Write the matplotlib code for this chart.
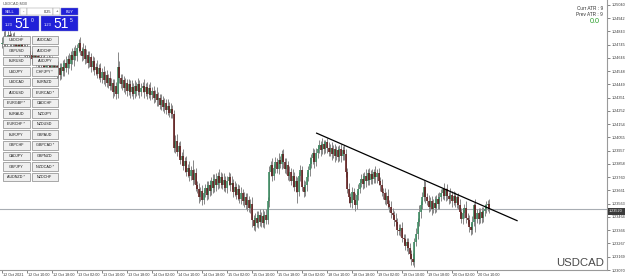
import matplotlib
matplotlib.use("Agg")
import matplotlib.pyplot as plt
from matplotlib.patches import Rectangle
import matplotlib.transforms as mtransforms

plt.rcParams['font.family'] = ['Liberation Sans', 'DejaVu Sans']

# ---------------- data (USDCAD M30) ----------------
BASE = 1.2300          # price = BASE + pips * 0.0001
close_pips = [
176,180,174,178,182,177,175,180,176,172,
174,170,176,173,169,172,166,170,167,164,
168,163,166,161,165,160,163,158,162,159,
163,157,161,155,159,153,157,152,158,155,
161,157,164,160,167,163,170,166,172,176,
170,166,171,164,167,161,165,158,162,156,
158,153,157,150,154,148,152,146,150,144,
146,139,144,138,158,150,145,148,142,146,
140,145,139,143,138,144,140,145,139,142,
144,139,143,138,142,137,140,135,138,133,
135,130,133,128,131,126,129,124,127,123,
98,103,95,99,89,92,84,88,80,83,
77,81,74,79,70,67,61,66,59,64,
68,63,70,66,73,68,75,70,77,72,
76,70,74,68,73,76,70,72,65,69,
63,67,60,64,58,61,55,59,53,56,
44,40,46,42,48,43,47,42,48,44,
58,80,85,77,83,87,82,89,86,93,
87,82,85,77,80,73,77,69,73,65,
77,81,69,65,70,76,81,86,90,94,
87,94,97,100,96,101,97,102,98,95,
98,93,97,92,96,91,97,92,96,93,
80,67,61,57,65,59,55,63,67,72,
75,71,77,73,79,74,78,75,80,76,
79,73,70,65,64,59,62,56,54,49,
48,44,43,37,36,38,31,30,25,28,
23,19,15,13,28,34,43,50,55,61,
69,61,58,54,58,52,57,53,60,56,
61,64,67,62,67,62,60,63,58,62,
57,61,55,50,45,49,53,46,44,39,
37,43,55,45,49,45,50,46,51,52,
55,56,52]
first_open_pips = 175
wick_hi = [
4,5,6,3,3,4,6,3,4,3,
4,5,6,3,4,3,5,3,4,3,
3,4,3,5,3,4,3,5,3,4,
4,3,5,3,4,3,5,4,3,5,
3,5,3,4,3,5,3,4,3,3,
4,3,5,3,4,3,5,3,4,3,
3,5,3,4,3,5,3,4,3,5,
4,3,5,3,11,4,3,5,3,4,
3,4,3,5,3,4,3,5,3,4,
3,5,3,4,3,5,3,4,3,5,
4,3,5,3,4,3,5,3,4,3,
3,4,5,3,4,3,5,3,4,3,
5,3,8,3,4,3,5,3,4,3,
3,5,3,4,3,5,3,4,3,5,
4,3,5,3,4,4,3,5,3,4,
3,4,3,5,3,4,3,5,3,4,
5,4,3,5,3,4,3,5,3,4,
3,4,3,5,3,4,3,5,3,3,
4,3,5,3,4,3,5,3,4,3,
3,4,3,5,3,4,3,5,3,4,
3,4,3,4,3,4,3,2,3,4,
3,4,3,4,3,3,3,4,3,4,
4,3,5,3,4,3,5,3,4,3,
3,4,3,5,3,4,3,4,2,4,
3,4,3,5,3,4,3,5,3,4,
4,3,5,3,4,3,5,3,4,3,
3,4,3,5,3,4,3,5,3,4,
5,4,3,5,3,4,3,5,3,4,
4,3,1,5,1,4,3,5,3,4,
3,2,3,5,3,4,3,5,3,4,
3,4,2,5,3,4,3,4,3,4,
3,3,4]
wick_lo = [
3,4,3,4,3,4,3,4,3,4,
3,4,3,4,3,4,3,4,3,4,
4,3,4,3,4,3,4,3,4,3,
3,4,3,4,3,4,3,4,3,4,
4,3,4,3,4,3,4,3,4,3,
3,4,3,4,3,4,3,4,3,4,
4,3,4,3,4,3,4,3,4,3,
3,4,3,4,3,4,3,4,3,4,
4,3,4,3,4,3,4,3,4,3,
3,4,3,4,3,4,3,4,3,4,
4,3,4,3,4,3,4,3,4,3,
3,4,3,4,3,4,3,4,3,4,
4,3,4,3,4,3,4,3,4,3,
3,4,3,4,3,4,3,4,3,4,
4,3,4,3,4,3,4,3,4,3,
3,4,3,4,3,4,3,4,3,4,
5,3,4,3,4,3,4,3,4,3,
3,4,3,4,3,4,3,4,3,4,
4,3,4,3,4,3,4,3,4,8,
3,4,3,4,3,4,3,4,3,4,
4,3,4,3,4,3,4,3,4,3,
3,4,3,5,3,4,3,5,3,4,
4,3,4,3,4,3,4,3,4,3,
3,4,3,4,3,4,3,4,3,4,
4,3,4,3,4,3,4,3,4,3,
3,4,3,4,3,4,3,4,3,4,
4,4,4,2,4,3,4,3,4,3,
3,4,3,4,3,4,3,4,3,4,
4,3,4,3,4,3,4,3,4,3,
3,4,3,4,3,4,3,4,3,4,
4,3,3,10,3,4,3,4,3,4,
3,4,3]

time_labels = ["12 Oct 2021", "12 Oct 10:00", "12 Oct 18:00", "13 Oct 02:00",
               "13 Oct 10:00", "13 Oct 18:00", "14 Oct 02:00", "14 Oct 10:00",
               "14 Oct 18:00", "15 Oct 02:00", "15 Oct 10:00", "15 Oct 18:00",
               "18 Oct 02:00", "18 Oct 10:00", "18 Oct 18:00", "19 Oct 02:00",
               "19 Oct 10:00", "19 Oct 18:00", "20 Oct 02:00", "20 Oct 10:00"]
time_label_bars = [0, 16, 32, 48, 64, 80, 96, 112, 128, 144, 160, 176,
                   192, 208, 224, 240, 256, 272, 288, 304]
price_ticks = [1.25040, 1.24942, 1.24843, 1.24745, 1.24646, 1.24548, 1.24449,
               1.24351, 1.24252, 1.24154, 1.24055, 1.23957, 1.23858, 1.23760,
               1.23661, 1.23563, 1.23464, 1.23366, 1.23267, 1.23169, 1.23070]
trend_bars = [201, 330]
trend_prices = [1.24089, 1.23435]

symbols_left = ["USDCHF", "GBPUSD", "EURUSD", "USDJPY", "USDCAD", "AUDUSD", "EURGBP *",
                "EURAUD", "EURCHF *", "EURJPY", "GBPCHF", "CADJPY", "GBPJPY", "AUDNZD *"]
symbols_right = ["AUDCAD", "AUDCHF", "AUDJPY", "CHFJPY *", "EURNZD", "EURCAD *", "CADCHF",
                 "NZDJPY", "NZDUSD", "GBPAUD", "GBPCAD *", "GBPNZD", "NZDCAD *", "NZDCHF"]

# ---------------- figure ----------------
W, H = 625, 280
fig = plt.figure(figsize=(W / 100, H / 100), dpi=100)
fig.patch.set_facecolor('white')
ax = fig.add_axes([0, 10 / H, 607 / W, 270 / H])
ax.set_facecolor('white')

n = len(close_pips)
closes = [BASE + p * 1e-4 for p in close_pips]
opens = [BASE + first_open_pips * 1e-4] + closes[:-1]
highs = [max(o, c) + h * 1e-4 for o, c, h in zip(opens, closes, wick_hi)]
lows = [min(o, c) - l * 1e-4 for o, c, l in zip(opens, closes, wick_lo)]
xs = list(range(n))

px = 0.72  # one pixel in points
ax.vlines(xs, lows, highs, colors='#8a8a8a', linewidth=1.0 * px, zorder=2)
bull_x = [x for x in xs if closes[x] >= opens[x]]
bear_x = [x for x in xs if closes[x] < opens[x]]
minb = 0.00004
ax.vlines(bull_x, [opens[x] for x in bull_x],
          [max(closes[x], opens[x] + minb) for x in bull_x],
          colors='#3a8a60', linewidth=1.6 * px, zorder=3)
ax.vlines(bear_x, [opens[x] for x in bear_x],
          [min(closes[x], opens[x] - minb) for x in bear_x],
          colors='#5e1818', linewidth=1.6 * px, zorder=3)

# trend line and current price line
ax.plot(trend_bars, trend_prices, color='black', linewidth=0.9, zorder=4,
        solid_capstyle='butt')
ax.axhline(closes[-1], color='#a8adb3', linewidth=0.8, zorder=1)

xmin = -2 / 1.5625
ax.set_xlim(xmin, xmin + 607 / 1.5625)
ax.set_ylim(1.23070, 1.25077)

for s in ['top', 'left']:
    ax.spines[s].set_visible(False)
for s in ['right', 'bottom']:
    ax.spines[s].set_color('#9a9a9a')
    ax.spines[s].set_linewidth(0.8)

ax.yaxis.tick_right()
ax.set_yticks(price_ticks)
ax.set_yticklabels([f"{v:.5f}" for v in price_ticks])
ax.tick_params(axis='y', length=2, width=0.5, color='#555555', pad=1,
               labelsize=2.7, labelcolor='#333333')
ax.set_xticks(time_label_bars)
ax.set_xticklabels([])
ax.tick_params(axis='x', length=2, width=0.5, color='#555555')
trans = mtransforms.blended_transform_factory(ax.transData, ax.transAxes)
for b, lab in zip(time_label_bars, time_labels):
    ax.text(b + 0.8, -0.012, lab, transform=trans, ha='left', va='top',
            fontsize=2.7, color='#333333')

# ---------------- overlay (UI elements, pixel coords) ----------------
ov = fig.add_axes([0, 0, 1, 1], zorder=10)
ov.set_xlim(0, W)
ov.set_ylim(H, 0)
ov.axis('off')
ov.patch.set_alpha(0)

# current price label
ov.add_patch(Rectangle((607.5, 208), 17.5, 6.5, facecolor='#3a3a3a', edgecolor='none'))
ov.text(616, 211.3, f"{closes[-1]:.5f}", color='white', fontsize=2.7,
        ha='center', va='center')

# title
ov.text(3, 3.5, "USDCAD,M30", fontsize=2.8, color='#555555', ha='left', va='center')

# one-click trading panel
blue = '#2020d8'
ov.add_patch(Rectangle((2, 8), 16.5, 7, facecolor=blue, edgecolor='#8080c0', linewidth=0.3))
ov.text(10.2, 11.6, "SELL", color='white', fontsize=2.8, ha='center', va='center')
ov.add_patch(Rectangle((20, 8), 7, 7, facecolor='white', edgecolor='#909090', linewidth=0.3))
ov.text(23.5, 11.4, "-", color='#202020', fontsize=3, ha='center', va='center')
ov.add_patch(Rectangle((27, 8), 26, 7, facecolor='white', edgecolor='#909090', linewidth=0.3))
ov.text(51, 11.6, "0.25", color='#202020', fontsize=2.8, ha='right', va='center')
ov.add_patch(Rectangle((53, 8), 7, 7, facecolor='white', edgecolor='#909090', linewidth=0.3))
ov.text(56.5, 11.4, "+", color='#202020', fontsize=3, ha='center', va='center')
ov.add_patch(Rectangle((61, 8), 17, 7, facecolor=blue, edgecolor='#8080c0', linewidth=0.3))
ov.text(69.5, 11.6, "BUY", color='white', fontsize=2.8, ha='center', va='center')
for x0, sup in [(2, "0"), (41, "5")]:
    ov.add_patch(Rectangle((x0, 15.5), 37, 15, facecolor=blue, edgecolor='#8080c0', linewidth=0.3))
    ov.text(x0 + 3, 26.5, "1.23", color='white', fontsize=2.9, ha='left', va='baseline')
    ov.text(x0 + 12, 28.5, "51", color='white', fontsize=10, ha='left', va='baseline')
    ov.text(x0 + 29, 21.5, sup, color='white', fontsize=3.6, ha='left', va='baseline')

# symbol buttons
for k, (sl, sr) in enumerate(zip(symbols_left, symbols_right)):
    y0 = 35.5 + 10.55 * k
    for x0, lab in [(3, sl), (31.5, sr)]:
        ov.add_patch(Rectangle((x0, y0), 26.5, 8.5, facecolor='#efefef',
                               edgecolor='#6c6c6c', linewidth=0.4))
        ov.text(x0 + 13.25, y0 + 4.5, lab, fontsize=2.7, color='#1a1a1a',
                ha='center', va='center')

# ATR info
ov.text(603, 9, "Curr ATR : 9", fontsize=3.4, color='#333333', ha='right', va='center')
ov.text(603, 14, "Prev ATR : 9", fontsize=3.4, color='#333333', ha='right', va='center')
ov.text(600, 21.5, "0.0", fontsize=5.2, color='#2ca02c', ha='right', va='center')

# symbol watermark
ov.text(604, 266, "USDCAD", fontsize=8.2, color='#4a4a4a', ha='right', va='baseline')

fig.savefig("out.png", dpi=100, facecolor='white')
